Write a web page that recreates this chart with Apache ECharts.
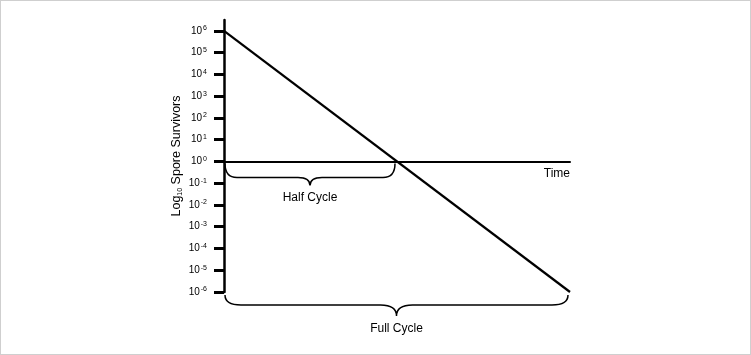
<!DOCTYPE html>
<html>
<head>
<meta charset="utf-8">
<script src="https://cdn.jsdelivr.net/npm/echarts@6/dist/echarts.min.js"></script>
<style>
html,body{margin:0;padding:0;background:#fff;}
#frame{position:absolute;left:0;top:0;width:749px;height:353px;border:1px solid #cfcfcf;}
#chart{position:absolute;left:0;top:0;width:751px;height:355px;}
</style>
</head>
<body>
<div id="frame"></div>
<div id="chart"></div>
<script>
// log10 exponents shown as tick labels
var tickExponents = [6, 5, 4, 3, 2, 1, 0, -1, -2, -3, -4, -5, -6];
// survivor curve: [time, log10 survivors]
var decayTime = [0, 12];
var decayLog = [6, -6];
// braces: [start time, end time, log10 level, label]
var braceStart = [0, 0];
var braceEnd = [6, 12];
var braceLevel = [0, -6];
var braceLabels = ['Half Cycle', 'Full Cycle'];

var FONT = '"Liberation Sans", Arial, sans-serif';
var chart = echarts.init(document.getElementById('chart'), null, {renderer: 'canvas'});

var lineData = decayTime.map(function (t, i) { return [t, decayLog[i]]; });
var braceData = braceStart.map(function (s, i) { return [s, braceEnd[i], braceLevel[i], braceLabels[i]]; });

function bracePath(x0, x1, y0, d, t, r) {
  var xm = (x0 + x1) / 2;
  var yb = y0 + d;
  return 'M' + x0 + ' ' + y0 +
    ' Q' + x0 + ' ' + yb + ' ' + (x0 + r) + ' ' + yb +
    ' L' + (xm - r) + ' ' + yb +
    ' Q' + xm + ' ' + yb + ' ' + xm + ' ' + (yb + t) +
    ' Q' + xm + ' ' + yb + ' ' + (xm + r) + ' ' + yb +
    ' L' + (x1 - r) + ' ' + yb +
    ' Q' + x1 + ' ' + yb + ' ' + x1 + ' ' + y0;
}

chart.setOption({
  animation: false,
  backgroundColor: 'transparent',
  grid: {left: 224, right: 181, top: 20, bottom: 63, containLabel: false},
  xAxis: {
    type: 'value', min: 0, max: 12,
    axisLine: {onZero: true, lineStyle: {color: '#000', width: 2}},
    axisTick: {show: false}, axisLabel: {show: false}, splitLine: {show: false},
    name: 'Time', nameLocation: 'end', nameGap: 0,
    nameTextStyle: {color: '#000', fontFamily: FONT, fontSize: 12, align: 'right', verticalAlign: 'top', padding: [6, 0, 0, 0]}
  },
  yAxis: {
    type: 'value', min: -6, max: 6.5, interval: 1,
    axisLine: {onZero: false, lineStyle: {color: '#000', width: 2.5}},
    axisTick: {show: true, inside: false, length: 10, lineStyle: {color: '#000', width: 3}, customValues: tickExponents},
    axisLabel: {
      customValues: tickExponents,
      margin: 17,
      formatter: function (v) { return '{b|10}{s|' + v + '}'; },
      rich: {
        b: {fontFamily: FONT, fontSize: 10, color: '#000'},
        s: {fontFamily: FONT, fontSize: 7, color: '#000', verticalAlign: 'top', padding: [0, 0, 5, 1]}
      }
    },
    splitLine: {show: false},
    name: '{n|Log}{sub|10}{n| Spore Survivors}',
    nameLocation: 'middle', nameRotate: 90, nameGap: 40,
    nameTextStyle: {
      rich: {
        n: {fontFamily: FONT, fontSize: 12.5, color: '#000'},
        sub: {fontFamily: FONT, fontSize: 7, color: '#000', padding: [7, 0, 0, 0]}
      }
    }
  },
  series: [
    {
      type: 'line', data: lineData, symbol: 'none',
      lineStyle: {color: '#000', width: 2.2}, z: 3
    },
    {
      type: 'custom', data: braceData,
      renderItem: function (params, api) {
        var a = api.coord([api.value(0), api.value(2)]);
        var b = api.coord([api.value(1), api.value(2)]);
        var full = params.dataIndex === 1;
        var y0 = a[1] + (full ? 3 : 2);
        var d = full ? 10 : 14;
        var t = full ? 11 : 8;
        var r = full ? 16 : 12;
        var x0 = a[0] + 1, x1 = b[0] - 2;
        var xm = (x0 + x1) / 2;
        return {
          type: 'group',
          children: [
            {type: 'path', shape: {pathData: bracePath(x0, x1, y0, d, t, r)},
             style: {fill: 'none', stroke: '#000', lineWidth: 1.5}},
            {type: 'text', x: xm, y: y0 + d + t + (full ? 13 : 12),
             style: {text: api.value(3), fill: '#000', font: '12px ' + FONT, align: 'center', verticalAlign: 'middle'}}
          ]
        };
      }
    }
  ]
});
</script>
</body>
</html>
